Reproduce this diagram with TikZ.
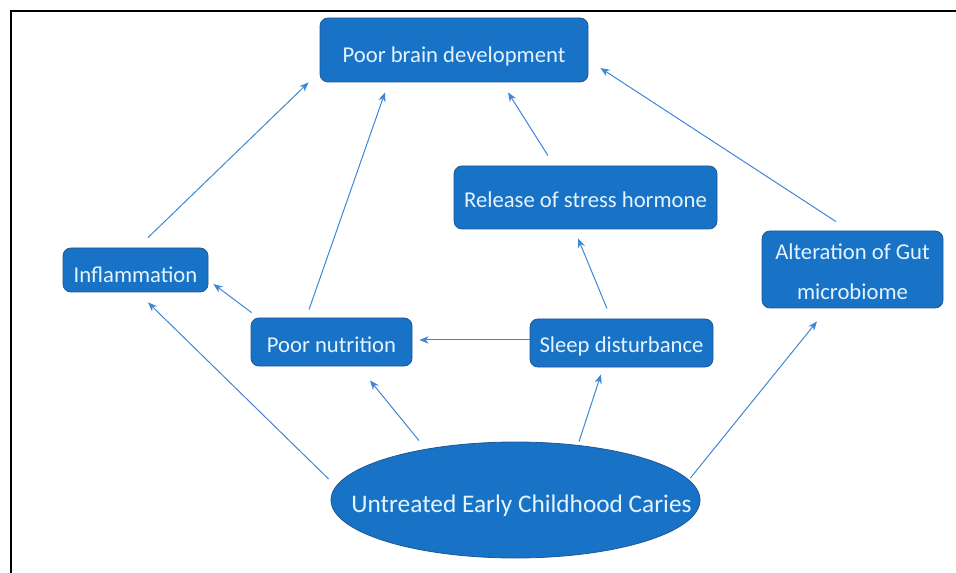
\documentclass[tikz,border=0pt]{standalone}
\usepackage{fontspec}
\setmainfont{Carlito}
\usetikzlibrary{shapes.geometric,arrows.meta,calc}
\definecolor{boxfill}{RGB}{24,114,198}
\definecolor{boxline}{RGB}{32,88,150}
\definecolor{txt}{RGB}{228,244,255}
\definecolor{arrowc}{RGB}{62,135,212}
\newcommand{\low}[2]{\raisebox{-#1pt}[0pt][0pt]{#2}}
\begin{document}
\begin{tikzpicture}[x=0.75pt,y=-0.75pt,
  box/.style={draw=boxline, fill=boxfill, rounded corners=6pt, text=txt,
    font=\fontsize{17}{20}\selectfont, inner sep=0pt, line width=0.6pt},
  oval/.style={ellipse, draw=boxline, fill=boxfill, inner sep=0pt, line width=0.6pt},
  ovaltext/.style={text=txt, font=\fontsize{19}{22}\selectfont, inner sep=0pt},
  arr/.style={draw=arrowc, line width=0.75pt, -{Stealth[length=7pt,width=5.5pt]}},
]
\useasboundingbox (0,0) rectangle (956,573);
\draw[line width=1.5pt] (11,573) -- (11,11) -- (956,11);

\node[box, minimum width=201pt, minimum height=48pt] (brain) at (454,50) {\low{9.25}{Poor brain development}};
\node[box, minimum width=197.25pt, minimum height=47.25pt] (stress) at (585.5,197.5) {\low{7.75}{Release of stress hormone}};
\node[box, minimum width=108.75pt, minimum height=33pt] (infl) at (135.5,270) {\low{9.6}{Inflammation}};
\node[box, minimum width=120.75pt, minimum height=36pt] (nutr) at (331.5,342) {\low{8.1}{Poor nutrition}};
\node[box, minimum width=137.25pt, minimum height=36pt] (sleep) at (621.5,343) {\low{7.4}{Sleep disturbance}};
\node[box, minimum width=135.75pt, minimum height=57.75pt] (gut) at (852.5,269.5)
  {\makebox[0pt]{\raisebox{7.6pt}[0pt][0pt]{Alteration of Gut}}\makebox[0pt]{\low{22.75}{microbiome}}};
\node[oval, minimum width=276.75pt, minimum height=87pt] (caries) at (515.5,500) {};
\node[ovaltext] (cariestext) at ($(caries.center)+(6,0)$) {\low{9.5}{Untreated Early Childhood Caries}};

\draw[arr] ($(infl.north)+(12.5,-10)$) -- ($(brain.south west)+(-11,0)$);
\draw[arr] ($(nutr.north)+(-22.5,-8)$) -- ($(brain.south)+(-69,10)$);
\draw[arr] ($(stress.north)+(-37.5,-10)$) -- ($(brain.south)+(54,10)$);
\draw[arr] ($(gut.north)+(-16.5,-9)$) -- ($(brain.east)+(12,18)$);
\draw[arr] ($(sleep.north)+(-14.5,-10)$) -- ($(stress.south)+(-7.5,9)$);
\draw[arr] ($(sleep.west)+(0,-3)$) -- ($(nutr.east)+(7,-2)$);
\draw[arr] ($(nutr.north west)+(1,-5)$) -- ($(infl.east)+(5,14)$);
\draw[arr] ($(caries.west)+(-2,-21)$) -- ($(infl.south)+(12.5,10)$);
\draw[arr] ($(caries.north)+(-96.5,-1)$) -- ($(nutr.south)+(38.5,14)$);
\draw[arr] ($(caries.north)+(63.5,0)$) -- ($(sleep.south)+(-20.5,7)$);
\draw[arr] ($(caries.east)+(-10,-22)$) -- ($(gut.south)+(-35.5,13)$);
\end{tikzpicture}
\end{document}
